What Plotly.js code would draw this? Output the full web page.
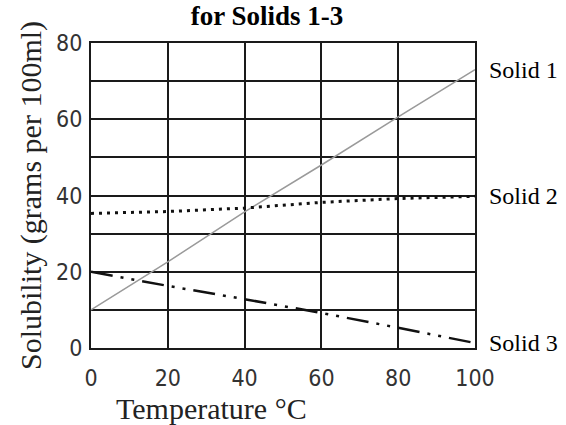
<!DOCTYPE html>
<html>
<head>
<meta charset="utf-8">
<script src="https://cdn.plot.ly/plotly-3.0.1.min.js"></script>
<style>html,body{margin:0;padding:0;background:#fff;}#chart{width:566px;height:425px;}</style>
</head>
<body>
<div id="chart"></div>
<script>
const temperatures = [0, 20, 40, 60, 80, 100];
const solid1 = [10, 22.6, 35.7, 48, 60.6, 73];
const solid2 = [35.3, 35.8, 36.7, 38.2, 39.2, 39.8];
const solid3 = [20, 16.3, 12.8, 9.2, 5.3, 1.3];
const seriesNames = ["Solid 1", "Solid 2", "Solid 3"];
const xTicks = [0, 20, 40, 60, 80, 100];
const yTicks = [0, 20, 40, 60, 80];

const serif = "'Times New Roman', 'Liberation Serif', serif";
const narrow = "'Liberation Sans Narrow', 'DejaVu Sans Condensed', 'Arial Narrow', sans-serif";

const traces = [
  {x: temperatures, y: solid1, name: seriesNames[0], mode: 'lines',
   line: {color: '#9a9a9a', width: 1.5}},
  {x: temperatures, y: solid2, name: seriesNames[1], mode: 'lines',
   line: {color: '#111', width: 3, dash: '3px,5px'}},
  {x: temperatures, y: solid3, name: seriesNames[2], mode: 'lines',
   line: {color: '#111', width: 2.5, dash: '22px,8px,3px,8px,3px,8px'}}
];

const labelY = [solid1[5], solid2[5], solid3[5]];
const annotations = seriesNames.map((n, i) => ({
  x: 1, xref: 'paper', y: labelY[i], yref: 'y', xanchor: 'left', yanchor: 'middle',
  xshift: 12, text: n, showarrow: false, font: {family: serif, size: 24, color: '#000'}
}));
annotations.push({
  x: (211 - 91) / (475 - 91), xref: 'paper', y: 0, yref: 'paper', text: 'Temperature °C', showarrow: false,
  xanchor: 'center', yanchor: 'top', yshift: -42,
  font: {family: serif, size: 30, color: '#222'}
});

const yTickVals = [0, 10, 20, 30, 40, 50, 60, 70, 80];
const yTickText = yTickVals.map(v => yTicks.includes(v) ? String(v) : '');

const layout = {
  width: 566, height: 425,
  margin: {l: 91, r: 91, t: 43, b: 77},
  paper_bgcolor: '#fff', plot_bgcolor: '#fff',
  showlegend: false,
  title: {text: '<b>for Solids 1-3</b>', x: 267 / 566, xref: 'container', xanchor: 'center',
          y: 1 - 16 / 425, yref: 'container', yanchor: 'middle',
          font: {family: serif, size: 27, color: '#000'}},
  xaxis: {range: [0, 100], tickvals: xTicks, ticktext: xTicks.map(String),
          showgrid: true, gridcolor: '#1a1a1a', gridwidth: 2, zeroline: false,
          showline: true, linecolor: '#1a1a1a', linewidth: 2, mirror: true,
          ticks: '', ticklabelstandoff: 8, tickfont: {family: narrow, size: 23, color: '#333'}, fixedrange: true},
  yaxis: {range: [0, 80], tickvals: yTickVals, ticktext: yTickText,
          showgrid: true, gridcolor: '#1a1a1a', gridwidth: 2, zeroline: false,
          showline: true, linecolor: '#1a1a1a', linewidth: 2, mirror: true,
          ticks: '', ticklabelstandoff: 2, tickfont: {family: narrow, size: 23, color: '#333'},
          title: {text: 'Solubility (grams per 100ml)', standoff: 6,
                  font: {family: serif, size: 30, color: '#222'}}, fixedrange: true},
  annotations: annotations
};

Plotly.newPlot('chart', traces, layout, {displayModeBar: false, staticPlot: true});
</script>
</body>
</html>
